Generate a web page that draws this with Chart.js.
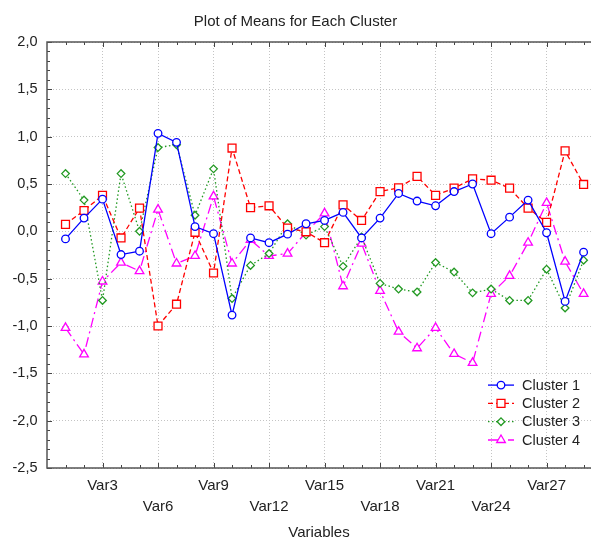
<!DOCTYPE html>
<html>
<head>
<meta charset="utf-8">
<title>Plot of Means for Each Cluster</title>
<script src="https://cdn.jsdelivr.net/npm/chart.js@4/dist/chart.umd.min.js"></script>
<style>
  html, body { margin: 0; padding: 0; background: #fff; }
  canvas { display: block; }
</style>
</head>
<body>
<canvas id="meansChart" width="591" height="539"></canvas>
<script>
// variables on the x axis (position = index + 1)
const variables = [
  'Var1', 'Var2', 'Var3', 'Var4', 'Var5', 'Var6', 'Var7', 'Var8', 'Var9', 'Var10',
  'Var11', 'Var12', 'Var13', 'Var14', 'Var15', 'Var16', 'Var17', 'Var18', 'Var19', 'Var20',
  'Var21', 'Var22', 'Var23', 'Var24', 'Var25', 'Var26', 'Var27', 'Var28', 'Var29'
];
const tickLabels = ['Var3', 'Var6', 'Var9', 'Var12', 'Var15', 'Var18', 'Var21', 'Var24', 'Var27'];
const seriesNames = ['Cluster 1', 'Cluster 2', 'Cluster 3', 'Cluster 4'];

const cluster1 = [-0.08, 0.14, 0.34, -0.245, -0.21, 1.035, 0.94, 0.05, -0.025, -0.885,
  -0.07, -0.12, -0.03, 0.08, 0.115, 0.2, -0.07, 0.14, 0.40, 0.32,
  0.27, 0.42, 0.50, -0.025, 0.15, 0.33, -0.015, -0.74, -0.22];
const cluster2 = [0.074, 0.22, 0.38, -0.07, 0.245, -1.0, -0.77, -0.01, -0.44, 0.88,
  0.25, 0.27, 0.035, -0.005, -0.12, 0.28, 0.115, 0.42, 0.46, 0.58,
  0.38, 0.456, 0.555, 0.54, 0.456, 0.245, 0.095, 0.85, 0.495];
const cluster3 = [0.61, 0.33, -0.73, 0.61, 0.0, 0.885, 0.915, 0.17, 0.66, -0.71,
  -0.36, -0.235, 0.08, -0.04, 0.05, -0.37, -0.06, -0.55, -0.61, -0.64,
  -0.33, -0.43, -0.65, -0.61, -0.73, -0.73, -0.40, -0.81, -0.305];
const cluster4 = [-1.02, -1.3, -0.53, -0.33, -0.42, 0.23, -0.34, -0.26, 0.37, -0.34,
  -0.09, -0.26, -0.235, -0.01, 0.19, -0.58, -0.13, -0.63, -1.06, -1.235,
  -1.02, -1.295, -1.39, -0.66, -0.47, -0.12, 0.30, -0.32, -0.66];

const FONT = 'Liberation Sans, Arial, sans-serif';
const TEXT = '#222';

function points(values) {
  return values.map((v, i) => ({ x: i + 1, y: v }));
}

const styles = [
  { color: '#0000ff', dash: [], shape: 'circle', r: 3.8 },
  { color: '#ff0000', dash: [5, 3], shape: 'rect', r: 5.6 },
  { color: '#229922', dash: [1.5, 2.5], shape: 'rectRot', r: 3.8 },
  { color: '#ff00ff', dash: [10, 4, 2, 4], shape: 'triangle', r: 5 }
];

const allSeries = [cluster1, cluster2, cluster3, cluster4];
const datasets = allSeries.map((vals, i) => ({
  label: seriesNames[i],
  data: points(vals),
  borderColor: styles[i].color,
  borderWidth: 1.3,
  borderDash: styles[i].dash,
  pointStyle: styles[i].shape,
  pointRadius: styles[i].r,
  pointBorderColor: styles[i].color,
  pointBackgroundColor: '#fff',
  pointBorderWidth: 1.3,
  tension: 0,
  fill: false
}));

// frame + inward tick marks
const frameTicks = {
  id: 'frameTicks',
  beforeDatasetsDraw(chart) {
    const { ctx, chartArea: a, scales: { x, y } } = chart;
    ctx.save();
    ctx.strokeStyle = '#444';
    ctx.lineWidth = 1;
    for (let v = 1; v <= 29; v++) {
      const px = Math.round(x.getPixelForValue(v)) + 0.5;
      const len = v % 3 === 0 ? 5 : 3;
      ctx.beginPath();
      ctx.moveTo(px, a.bottom); ctx.lineTo(px, a.bottom - len);
      ctx.moveTo(px, a.top); ctx.lineTo(px, a.top + len);
      ctx.stroke();
    }
    for (let k = -25; k <= 20; k++) {
      const py = Math.round(y.getPixelForValue(k / 10)) + 0.5;
      const len = k % 5 === 0 ? 5 : 3;
      ctx.beginPath();
      ctx.moveTo(a.left, py); ctx.lineTo(a.left + len, py);
      ctx.stroke();
    }
    ctx.strokeStyle = '#555';
    ctx.lineWidth = 1.5;
    ctx.beginPath();
    ctx.moveTo(a.right, a.top);
    ctx.lineTo(a.left, a.top);
    ctx.lineTo(a.left, a.bottom);
    ctx.lineTo(a.right, a.bottom);
    ctx.stroke();
    ctx.restore();
  }
};

// legend inside the plot, bottom right
const insideLegend = {
  id: 'insideLegend',
  afterDraw(chart) {
    const { ctx, chartArea: a } = chart;
    ctx.save();
    ctx.font = '14.5px ' + FONT;
    ctx.textBaseline = 'middle';
    ctx.textAlign = 'left';
    chart.data.datasets.forEach((ds, i) => {
      const yy = a.bottom - 28 - (3 - i) * 18.3;
      const x0 = a.right - 103, x1 = a.right - 77;
      ctx.strokeStyle = ds.borderColor;
      ctx.lineWidth = 1.3;
      ctx.setLineDash(ds.borderDash);
      ctx.beginPath();
      ctx.moveTo(x0, yy); ctx.lineTo(x1, yy);
      ctx.stroke();
      ctx.setLineDash([]);
      ctx.fillStyle = '#fff';
      ctx.strokeStyle = ds.borderColor;
      ctx.lineWidth = 1.3;
      Chart.helpers.drawPoint(ctx, {
        pointStyle: ds.pointStyle, radius: ds.pointRadius, rotation: 0,
        borderWidth: 1.3
      }, (x0 + x1) / 2, yy);
      ctx.fillStyle = TEXT;
      ctx.fillText(ds.label, x1 + 8, yy + 0.5);
    });
    ctx.restore();
  }
};

new Chart(document.getElementById('meansChart'), {
  type: 'line',
  data: { datasets },
  plugins: [frameTicks, insideLegend],
  options: {
    responsive: false,
    animation: false,
    devicePixelRatio: 1,
    layout: { autoPadding: false, padding: 0 },
    plugins: {
      legend: { display: false },
      tooltip: { enabled: false },
      title: {
        display: true,
        text: 'Plot of Means for Each Cluster',
        color: TEXT,
        font: { family: FONT, size: 15, weight: 'normal', lineHeight: 1.2 },
        padding: { top: 13, bottom: 11 }
      }
    },
    scales: {
      x: {
        type: 'linear',
        min: 0,
        max: 29.4,
        afterFit(scale) {
          scale.height = 71;
          scale.paddingLeft = 0;
          scale.paddingRight = 0;
        },
        afterBuildTicks(scale) {
          const t = [];
          for (let v = 0; v <= 29; v++) t.push({ value: v });
          scale.ticks = t;
        },
        ticks: {
          autoSkip: false,
          maxRotation: 0,
          padding: 8,
          color: TEXT,
          font: { family: FONT, size: 15, lineHeight: 1.36 },
          callback(value) {
            if (value % 3 !== 0 || value === 0) return '';
            const k = value / 3 - 1;
            const lbl = tickLabels[k];
            return k % 2 === 0 ? [lbl, ''] : ['', lbl];
          }
        },
        grid: {
          drawTicks: false,
          color(ctx) {
            const v = ctx.tick && ctx.tick.value;
            return (v % 3 === 0 && v > 0) ? '#c4c4c4' : 'rgba(0,0,0,0)';
          },
          lineWidth: 1
        },
        border: { display: false, dash: [1, 2] },
        title: {
          display: true,
          text: 'Variables',
          color: TEXT,
          font: { family: FONT, size: 15, lineHeight: 0.8 },
          padding: { top: 0, bottom: 0 }
        }
      },
      y: {
        min: -2.5,
        max: 2.0,
        afterFit(scale) { scale.width = 47; },
        ticks: {
          stepSize: 0.5,
          padding: 9.5,
          color: TEXT,
          font: { family: FONT, size: 14.5 },
          callback(value) { return value.toFixed(1).replace('.', ','); }
        },
        grid: { drawTicks: false, color: '#c4c4c4', lineWidth: 1 },
        border: { display: false, dash: [1, 2] }
      }
    }
  }
});
</script>
</body>
</html>
